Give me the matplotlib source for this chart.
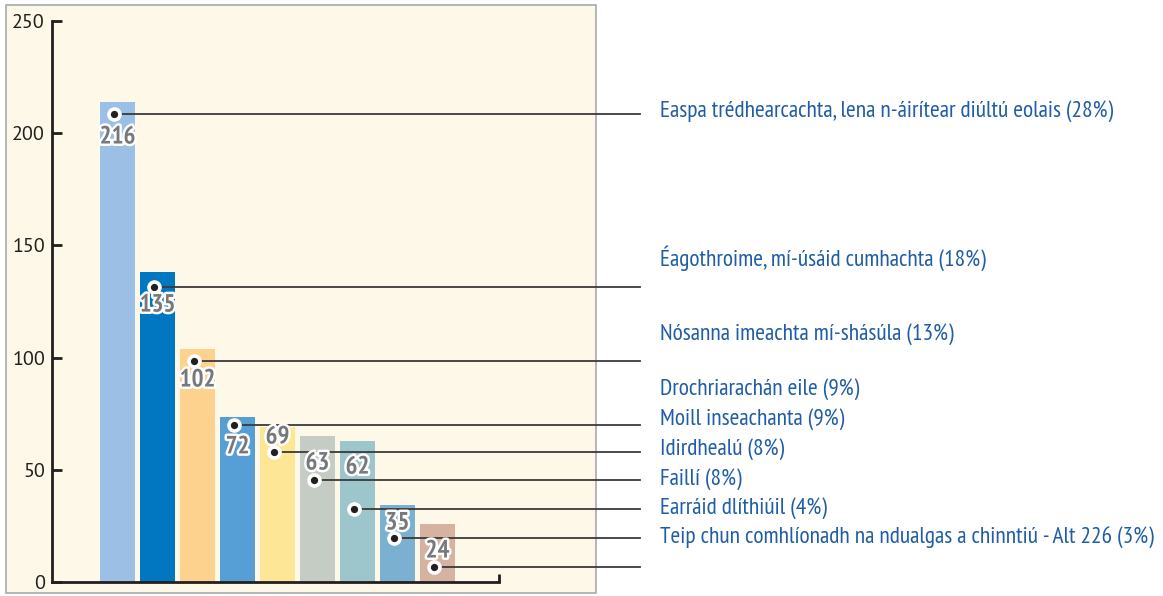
import matplotlib
matplotlib.use("Agg")
import matplotlib.pyplot as plt
import matplotlib.patheffects as pe
from matplotlib.patches import Rectangle

# bar heights as drawn, and the numbers printed on them
bar_heights = [214, 138, 104, 73.5, 69, 65, 63, 34.5, 26]
bar_labels = ["216", "135", "102", "72", "69", "63", "62", "35", "24"]
bar_colors = ["#9BBFE5", "#0077C0", "#FDD28E", "#569FD6", "#FDE796",
              "#C5CCC3", "#9DC6CC", "#7CB0D0", "#D6B3A0"]

categories = [
    "Easpa trédhearcachta, lena n-áirítear diúltú eolais (28%)",
    "Éagothroime, mí-úsáid cumhachta (18%)",
    "Nósanna imeachta mí-shásúla (13%)",
    "Drochriarachán eile (9%)",
    "Moill inseachanta (9%)",
    "Idirdhealú (8%)",
    "Faillí (8%)",
    "Earráid dlíthiúil (4%)",
    "Teip chun comhlíonadh na ndualgas a chinntiú - Alt 226 (3%)",
]
yticks = [0, 50, 100, 150, 200, 250]

# layout of the callouts (data units)
leader_y = [208.6, 131.5, 98.5, 70.0, 57.9, 45.5, 32.5, 19.6, 6.7]
number_y = [198.3, 123.4, 90.0, 60.2, 64.6, 53.0, 51.2, 26.3, 13.8]
category_y = [209.9, 144.4, 110.5, 86.0, 72.6, 59.3, 45.9, 33.0, 19.6]
line_end_x = 13.06
text_x = 13.56

narrow = ["PT Sans Narrow", "DejaVu Sans"]

W, H = 1163, 596
fig = plt.figure(figsize=(W / 100, H / 100), dpi=100)
fig.patch.set_facecolor("white")

# cream panel behind the chart
fig.patches.append(Rectangle((6 / W, 3 / H), 590 / W, 588 / H, transform=fig.transFigure,
                             facecolor="#FEF8E8", edgecolor="#A7AAAD", lw=1.2, zorder=0))

ax = fig.add_axes([52 / W, 14 / H, 447 / W, 561 / H])
ax.set_zorder(2)
ax.set_facecolor("none")
ax.set_xlim(-1.6375, 9.5375)
ax.set_ylim(0, 250)

x = list(range(len(bar_heights)))
ax.bar(x, bar_heights, width=0.875, color=bar_colors, zorder=2)

for spine in ["top", "right"]:
    ax.spines[spine].set_visible(False)
for spine in ["left", "bottom"]:
    ax.spines[spine].set_color("#231F20")
    ax.spines[spine].set_linewidth(2)

ax.set_yticks(yticks)
ax.tick_params(axis="y", direction="in", length=7, width=2, color="#231F20",
               labelsize=14.5, labelcolor="#231F20", pad=5)
for lab in ax.get_yticklabels():
    lab.set_family(["PT Sans", "DejaVu Sans"])
# small end tick at the right of the x axis
ax.set_xticks([9.5375])
ax.set_xticklabels([""])
ax.tick_params(axis="x", direction="in", length=6, width=2, color="#231F20")

stroke = [pe.withStroke(linewidth=3.5, foreground="white")]
for i in x:
    dx = i - 0.08
    ax.plot([dx, line_end_x], [leader_y[i], leader_y[i]], color="#3A3A3A", lw=1.3,
            clip_on=False, zorder=3)
    ax.plot(dx, leader_y[i], "o", ms=9.5, mfc="white", mec="white", clip_on=False, zorder=4)
    ax.plot(dx, leader_y[i], "o", ms=4.2, mfc="#231F20", mec="#231F20", clip_on=False, zorder=5)
    ax.text(i, number_y[i], bar_labels[i], ha="center", va="center", fontsize=18,
            fontweight="bold", color="#77787B", family=narrow,
            path_effects=stroke, zorder=6)
    ax.text(text_x, category_y[i], categories[i], ha="left", va="center", fontsize=16.8,
            color="#1F5DA6", family=narrow, clip_on=False)

fig.savefig("out.png", dpi=100)
